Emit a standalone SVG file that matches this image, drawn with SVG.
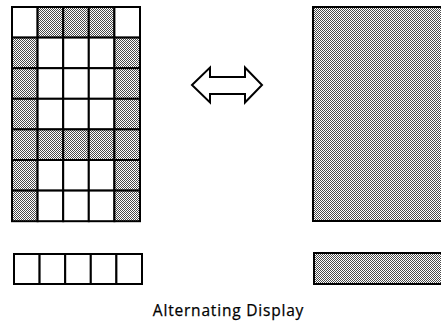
<svg xmlns="http://www.w3.org/2000/svg" width="441" height="322" viewBox="0 0 441 322">
<defs>
<pattern id="dots" width="2" height="2" patternUnits="userSpaceOnUse">
<rect width="2" height="2" fill="#fff"/>
<rect x="0" y="0" width="1" height="1" fill="#4a4a4a"/>
<rect x="1" y="1" width="1" height="1" fill="#4a4a4a"/>
</pattern>
</defs>
<style>
.w{fill:#fff;stroke:#000;stroke-width:2}
.s{fill:url(#dots);stroke:#000;stroke-width:2}
.lbl{font-family:"Open Sans","DejaVu Sans",sans-serif;font-size:15.5px;letter-spacing:0.8px;fill:#000;stroke:#000;stroke-width:0.25}
</style>
<g id="grid">
<rect class="w" x="12" y="7" width="25.6" height="30.6"/>
<rect class="s" x="37.6" y="7" width="25.6" height="30.6"/>
<rect class="s" x="63.2" y="7" width="25.6" height="30.6"/>
<rect class="s" x="88.8" y="7" width="25.6" height="30.6"/>
<rect class="w" x="114.4" y="7" width="25.6" height="30.6"/>

<rect class="s" x="12" y="37.6" width="25.6" height="30.6"/>
<rect class="w" x="37.6" y="37.6" width="25.6" height="30.6"/>
<rect class="w" x="63.2" y="37.6" width="25.6" height="30.6"/>
<rect class="w" x="88.8" y="37.6" width="25.6" height="30.6"/>
<rect class="s" x="114.4" y="37.6" width="25.6" height="30.6"/>

<rect class="s" x="12" y="68.2" width="25.6" height="30.6"/>
<rect class="w" x="37.6" y="68.2" width="25.6" height="30.6"/>
<rect class="w" x="63.2" y="68.2" width="25.6" height="30.6"/>
<rect class="w" x="88.8" y="68.2" width="25.6" height="30.6"/>
<rect class="s" x="114.4" y="68.2" width="25.6" height="30.6"/>

<rect class="s" x="12" y="98.8" width="25.6" height="30.6"/>
<rect class="w" x="37.6" y="98.8" width="25.6" height="30.6"/>
<rect class="w" x="63.2" y="98.8" width="25.6" height="30.6"/>
<rect class="w" x="88.8" y="98.8" width="25.6" height="30.6"/>
<rect class="s" x="114.4" y="98.8" width="25.6" height="30.6"/>

<rect class="s" x="12" y="129.4" width="25.6" height="30.6"/>
<rect class="s" x="37.6" y="129.4" width="25.6" height="30.6"/>
<rect class="s" x="63.2" y="129.4" width="25.6" height="30.6"/>
<rect class="s" x="88.8" y="129.4" width="25.6" height="30.6"/>
<rect class="s" x="114.4" y="129.4" width="25.6" height="30.6"/>

<rect class="s" x="12" y="160" width="25.6" height="30.6"/>
<rect class="w" x="37.6" y="160" width="25.6" height="30.6"/>
<rect class="w" x="63.2" y="160" width="25.6" height="30.6"/>
<rect class="w" x="88.8" y="160" width="25.6" height="30.6"/>
<rect class="s" x="114.4" y="160" width="25.6" height="30.6"/>

<rect class="s" x="12" y="190.6" width="25.6" height="30.6"/>
<rect class="w" x="37.6" y="190.6" width="25.6" height="30.6"/>
<rect class="w" x="63.2" y="190.6" width="25.6" height="30.6"/>
<rect class="w" x="88.8" y="190.6" width="25.6" height="30.6"/>
<rect class="s" x="114.4" y="190.6" width="25.6" height="30.6"/>
</g>
<g id="strip-left">
<rect class="w" x="14" y="254" width="25.6" height="30"/>
<rect class="w" x="39.6" y="254" width="25.6" height="30"/>
<rect class="w" x="65.2" y="254" width="25.6" height="30"/>
<rect class="w" x="90.8" y="254" width="25.6" height="30"/>
<rect class="w" x="116.4" y="254" width="25.6" height="30"/>
</g>
<g id="block-right">
<rect class="s" x="313" y="7" width="130" height="214"/>
</g>
<g id="strip-right">
<rect class="s" x="314" y="253" width="130" height="31"/>
</g>
<g id="connectors">
<path d="M192,85 L210,67.5 L210,77 L245,77 L245,67.5 L262,85 L245,102.5 L245,94 L210,94 L210,102.5 Z" fill="#fff" stroke="#000" stroke-width="2" stroke-linejoin="miter"/>
</g>
<text class="lbl" x="228.5" y="315.5" text-anchor="middle">Alternating Display</text>
</svg>
